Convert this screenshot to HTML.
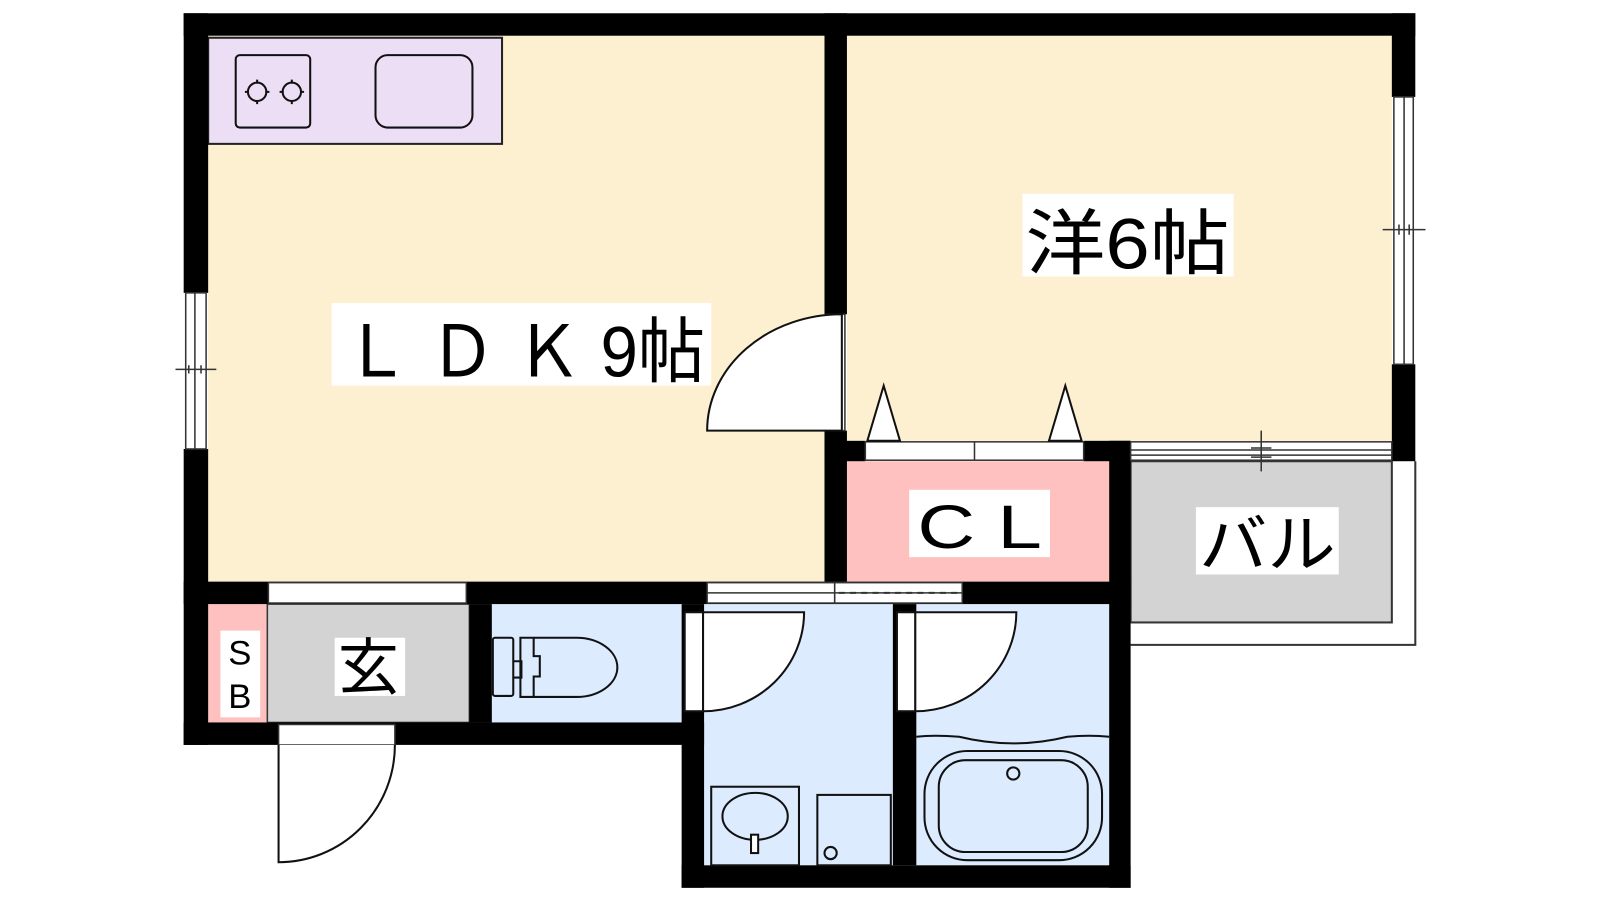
<!DOCTYPE html>
<html><head><meta charset="utf-8"><style>html,body{margin:0;padding:0;background:#fff}svg{display:block}</style></head>
<body>
<svg width="1600" height="900" viewBox="0 0 1568 882" preserveAspectRatio="none" xmlns="http://www.w3.org/2000/svg" font-family="'Liberation Sans','Noto Sans CJK JP',sans-serif">
<rect width="1568" height="882" fill="#fff"/>
<rect x="204" y="35" width="604" height="535" fill="#fdf0d0"/>
<rect x="830" y="35" width="534" height="397" fill="#fdf0d0"/>
<rect x="830" y="452" width="257" height="118" fill="#ffc0c0"/>
<rect x="1108" y="452" width="256" height="158" fill="#d3d3d3" stroke="#333" stroke-width="2"/>
<path d="M1387 452 V632 H1108" fill="none" stroke="#333" stroke-width="2"/>
<rect x="204" y="592" width="58" height="116" fill="#ffc0c0"/>
<rect x="262" y="592" width="198" height="116" fill="#d3d3d3" stroke="#333" stroke-width="1.5"/>
<rect x="482" y="592" width="186" height="116" fill="#dcebfd"/>
<rect x="690" y="592" width="185" height="256" fill="#dcebfd"/>
<rect x="898" y="592" width="189" height="256" fill="#dcebfd"/>
<rect x="204" y="37" width="288" height="104" fill="#ecdff5" stroke="#222" stroke-width="2"/>
<rect x="231" y="54" width="73" height="71" rx="4" fill="none" stroke="#111" stroke-width="2"/>
<circle cx="252" cy="90" r="9" fill="none" stroke="#111" stroke-width="2"/>
<circle cx="286" cy="90" r="9" fill="none" stroke="#111" stroke-width="2"/>
<path d="M252 78v4M252 98v4M240 90h4M260 90h4M286 78v4M286 98v4M274 90h4M294 90h4" stroke="#111" stroke-width="2"/>
<rect x="368" y="54" width="95" height="71" rx="12" fill="none" stroke="#111" stroke-width="2"/>
<g fill="#000">
<rect x="180" y="13" width="1207" height="22"/>
<rect x="180" y="13" width="24" height="274"/>
<rect x="180" y="440" width="24" height="290"/>
<rect x="1364" y="13" width="23" height="82"/>
<rect x="1364" y="357" width="23" height="95"/>
<rect x="808" y="13" width="22" height="295"/>
<rect x="808" y="422" width="22" height="148"/>
<rect x="808" y="432" width="40" height="20"/>
<rect x="1062" y="432" width="46" height="20"/>
<rect x="1087" y="432" width="21" height="438"/>
<rect x="180" y="570" width="928" height="22"/>
<rect x="460" y="592" width="22" height="116"/>
<rect x="180" y="708" width="510" height="22"/>
<rect x="668" y="592" width="22" height="278"/>
<rect x="875" y="592" width="23" height="256"/>
<rect x="668" y="848" width="440" height="22"/>
</g>
<g fill="#fff" stroke="#333" stroke-width="1.5">
<rect x="182" y="287" width="20" height="153"/>
<rect x="1366" y="95" width="19" height="262"/>
<rect x="263" y="571" width="194" height="20"/>
<rect x="273" y="710" width="114" height="20"/>
<rect x="693" y="571" width="125" height="20"/>
<rect x="818" y="571" width="125" height="20"/>
<rect x="848" y="433" width="214" height="18"/>
<rect x="1108" y="433" width="256" height="18"/>
<rect x="810" y="308" width="18" height="114"/>
</g>
<g stroke="#333" stroke-width="1.5" fill="none">
<path d="M191 287V440M172 362h40M185 358v8M197 358v8"/>
<path d="M1376 95V357M1355 225h42M1371 220v10M1381 220v10"/>
<path d="M693 581H818M818 581H943"/>
<path d="M955 433V451"/>
<path d="M1108 441H1364M1108 446H1364M1236 422v40M1226 439h20M1226 448h20"/>
</g>
<path d="M822 581H943" stroke="#333" stroke-width="2" stroke-dasharray="6 5"/>
<path d="M850 432L866 378L882 432Z M1028 432L1044 378L1060 432Z" fill="#fff" stroke="#111" stroke-width="2"/>
<path d="M825 308V422H693A132 114 0 0 1 825 308Z" fill="#fff" stroke="#111" stroke-width="2"/>
<path d="M273 730V845A114 115 0 0 0 387 730" fill="#fff" stroke="#111" stroke-width="2"/>
<rect x="671" y="600" width="18" height="97" fill="#fff" stroke="#111" stroke-width="2"/>
<path d="M689 600H788A99 97 0 0 1 689 697Z" fill="#fff" stroke="#111" stroke-width="2"/>
<rect x="879" y="600" width="18" height="97" fill="#fff" stroke="#111" stroke-width="2"/>
<path d="M897 600H996A99 97 0 0 1 897 697Z" fill="#fff" stroke="#111" stroke-width="2"/>
<g fill="none" stroke="#111" stroke-width="2">
<rect x="483" y="625" width="20" height="57" rx="2"/>
<path d="M510 625H565A40 29 0 0 1 565 683H510Z"/>
<path d="M503 648h8v16h-8M523 625v18h6v20h-6v20"/>
</g>
<g fill="none" stroke="#111" stroke-width="2">
<rect x="697" y="771" width="86" height="77"/>
<ellipse cx="740" cy="800" rx="32" ry="23"/>
<rect x="736" y="818" width="7" height="18" fill="#fff"/>
<rect x="801" y="779" width="72" height="69"/>
<circle cx="814" cy="836" r="6"/>
</g>
<g fill="none" stroke="#111" stroke-width="2">
<path d="M898 722Q915 720 940 722Q993 735 1046 722Q1068 720 1087 722"/>
<rect x="906" y="736" width="174" height="107" rx="42"/>
<rect x="920" y="745" width="146" height="90" rx="26"/>
<circle cx="993" cy="758" r="6"/>
</g>
<rect x="325" y="297" width="372" height="81" fill="#fff"/>
<text x="336" y="369" font-size="70" textLength="355" lengthAdjust="spacingAndGlyphs">Ｌ Ｄ Ｋ 9帖</text>
<rect x="1002" y="190" width="207" height="81" fill="#fff"/>
<text x="1005" y="263" font-size="70" textLength="200" lengthAdjust="spacingAndGlyphs">洋6帖</text>
<rect x="891" y="480" width="138" height="66" fill="#fff"/>
<text x="899" y="537" font-size="60" textLength="122" lengthAdjust="spacingAndGlyphs">C L</text>
<rect x="1172" y="497" width="140" height="66" fill="#fff"/>
<text x="1175" y="555" font-size="62" textLength="134" lengthAdjust="spacingAndGlyphs">バル</text>
<rect x="328" y="625" width="69" height="57" fill="#fff"/>
<text x="331" y="675" font-size="60">玄</text>
<rect x="216" y="618" width="39" height="85" fill="#fff"/>
<text x="235" y="651" font-size="34" text-anchor="middle">S</text>
<text x="235" y="694" font-size="34" text-anchor="middle">B</text>
</svg>
</body></html>
